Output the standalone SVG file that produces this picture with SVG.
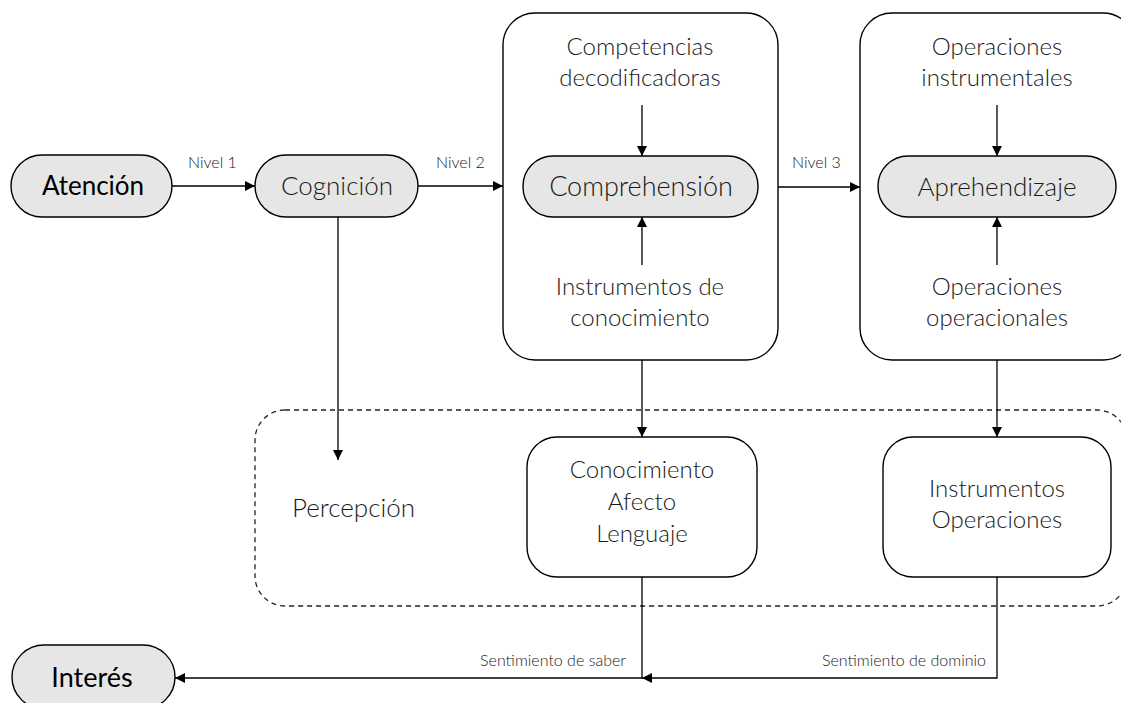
<svg xmlns="http://www.w3.org/2000/svg" width="1121" height="703" viewBox="0 0 1121 703">
  <defs>
    <marker id="arrow" viewBox="0 0 10 10" refX="10" refY="5" markerWidth="10" markerHeight="10" markerUnits="userSpaceOnUse" orient="auto">
      <path d="M0,0 L10,5 L0,10 Z" fill="#000"/>
    </marker>
    <style>
      .pill { fill: #e6e6e6; stroke: #000; stroke-width: 1.4; }
      .box { fill: #fff; stroke: #000; stroke-width: 1.4; }
      .group { fill: none; stroke: #222; stroke-width: 1.3; stroke-dasharray: 5 4; }
      .line { fill: none; stroke: #000; stroke-width: 1.3; }
      .arr { marker-end: url(#arrow); }
      text { font-family: Lato, "Open Sans", "DejaVu Sans", sans-serif; fill: #1a1a1a; }
      .t { font-size: 24px; font-weight: 300; text-anchor: middle; }
      .tp { font-size: 26px; font-weight: 300; text-anchor: middle; }
      .tb { font-size: 26px; font-weight: 400; text-anchor: middle; fill: #000; }
      .lbl { font-size: 16px; font-weight: 300; }
    </style>
  </defs>

  <!-- dashed outcome region -->
  <rect id="region" class="group" x="255" y="410" width="872" height="196" rx="30" ry="30"/>

  <!-- big containers -->
  <g id="comprehension-box">
    <rect class="box" x="503" y="13" width="275" height="347" rx="32" ry="32"/>
    <text class="t" x="640" y="55">Competencias</text>
    <text class="t" x="640" y="86">decodificadoras</text>
    <text class="t" x="640" y="295">Instrumentos de</text>
    <text class="t" x="640" y="326">conocimiento</text>
  </g>
  <g id="aprehendizaje-box">
    <rect class="box" x="860" y="13" width="275" height="347" rx="32" ry="32"/>
    <text class="t" x="997" y="55">Operaciones</text>
    <text class="t" x="997" y="86">instrumentales</text>
    <text class="t" x="997" y="295">Operaciones</text>
    <text class="t" x="997" y="326">operacionales</text>
  </g>

  <!-- pills -->
  <g id="atencion">
    <rect class="pill" x="11" y="155" width="161" height="62" rx="31" ry="31"/>
    <text class="tb" x="93" y="195">Atención</text>
  </g>
  <g id="cognicion">
    <rect class="pill" x="255" y="155" width="163" height="62" rx="31" ry="31"/>
    <text class="tp" x="337" y="195">Cognición</text>
  </g>
  <g id="comprehension">
    <rect class="pill" x="523" y="156" width="235" height="61" rx="30" ry="30"/>
    <text class="tp" x="641" y="196" style="font-size:27px">Comprehensión</text>
  </g>
  <g id="aprehendizaje">
    <rect class="pill" x="878" y="156" width="238" height="61" rx="30" ry="30"/>
    <text class="tp" x="997" y="196">Aprehendizaje</text>
  </g>
  <g id="interes">
    <rect class="pill" x="12" y="645" width="163" height="64" rx="32" ry="32"/>
    <text class="tb" x="92" y="687" style="font-size:27px">Interés</text>
  </g>

  <!-- lower nodes -->
  <g id="percepcion">
    <text class="tp" x="292" y="517" style="text-anchor:start">Percepción</text>
  </g>
  <g id="conocimiento">
    <rect class="box" x="527" y="437" width="230" height="140" rx="30" ry="30"/>
    <text class="t" x="642" y="478">Conocimiento</text>
    <text class="t" x="642" y="510">Afecto</text>
    <text class="t" x="642" y="542">Lenguaje</text>
  </g>
  <g id="instrumentos">
    <rect class="box" x="883" y="437" width="228" height="140" rx="30" ry="30"/>
    <text class="t" x="997" y="497">Instrumentos</text>
    <text class="t" x="997" y="528">Operaciones</text>
  </g>

  <!-- connectors -->
  <g id="connectors">
    <line class="line arr" x1="172" y1="186" x2="255" y2="186"/>
    <line class="line arr" x1="418" y1="186" x2="503" y2="186"/>
    <line class="line arr" x1="778" y1="187" x2="860" y2="187"/>
    <line class="line arr" x1="642" y1="105" x2="642" y2="156"/>
    <line class="line arr" x1="642" y1="265" x2="642" y2="217"/>
    <line class="line arr" x1="997" y1="105" x2="997" y2="156"/>
    <line class="line arr" x1="997" y1="265" x2="997" y2="217"/>
    <line class="line arr" x1="338" y1="217" x2="338" y2="460"/>
    <line class="line arr" x1="642" y1="360" x2="642" y2="437"/>
    <line class="line arr" x1="997" y1="360" x2="997" y2="437"/>
    <polyline class="line arr" points="997,577 997,678 642,678"/>
    <polyline class="line arr" points="642,577 642,678 175,678"/>
    <text class="lbl" x="188" y="168">Nivel 1</text>
    <text class="lbl" x="436" y="168">Nivel 2</text>
    <text class="lbl" x="792" y="168">Nivel 3</text>
    <text class="lbl" x="626" y="666" style="text-anchor:end">Sentimiento de saber</text>
    <text class="lbl" x="986" y="666" style="text-anchor:end">Sentimiento de dominio</text>
  </g>
</svg>
